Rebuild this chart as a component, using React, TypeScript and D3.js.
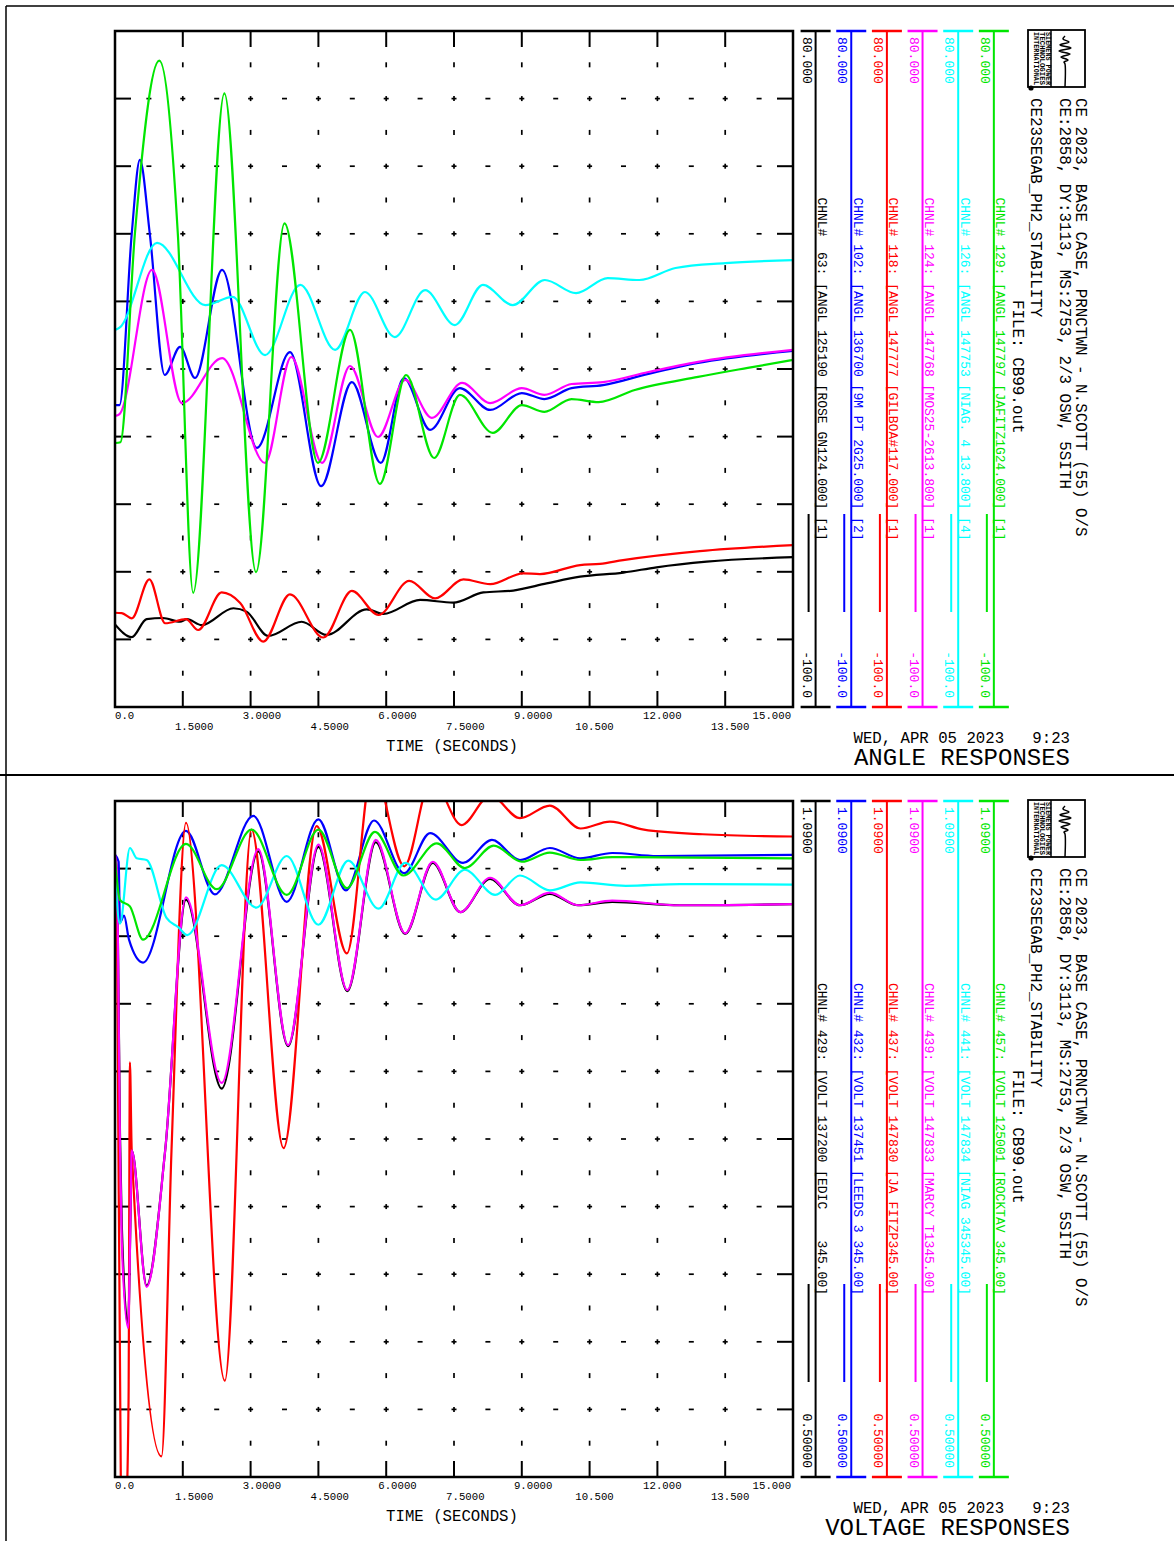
import React, { useEffect, useRef } from 'react';
import * as d3 from 'd3';

type Pt = [number, number];

const timeTicks = ['0.0', '1.5000', '3.0000', '4.5000', '6.0000', '7.5000', '9.0000', '10.500', '12.000', '13.500', '15.000'];

// black, blue, red, magenta, cyan, green (channel order)
const channelColors = ['#000000', '#0000ff', '#ff0000', '#ff00ff', '#00ffff', '#00e600'];

// ANGLE RESPONSES [time s, angle deg]
const angle63: Pt[] = [[0, -78], [0.37, -81.4], [0.7, -76.6], [1.06, -76.3], [1.44, -77.3], [1.59, -76.6], [1.92, -78.2], [2.62, -73.7], [2.91, -74.6], [3.39, -81.1], [4.13, -77.3], [4.68, -80.8], [5.57, -74], [5.94, -75.2], [6.75, -71.5], [7.48, -72.2], [8.15, -69.5], [8.81, -69], [9.55, -67.1], [10.29, -65.3], [11.25, -64.2], [11.98, -62.8], [13.09, -61.3], [15, -60.1]];
const angle102: Pt[] = [[0, -19.6], [0.1, -19.6], [0.37, 26], [0.55, 45.7], [0.77, 26], [1.1, -11.6], [1.44, -4.1], [1.77, -12.4], [2.37, 16.4], [3.14, -31], [3.87, -5.5], [4.56, -41.2], [5.24, -13.5], [5.88, -35], [6.39, -12.4], [6.97, -26.2], [7.63, -15.1], [8.3, -20.9], [9.0, -16.4], [9.5, -18], [10.1, -15.1], [10.8, -14.3], [11.8, -11.3], [12.9, -8.4], [15, -5.2]];
const angle118: Pt[] = [[0, -74.9], [0.15, -75], [0.37, -76.4], [0.76, -66], [1.11, -77.7], [1.57, -76.6], [1.84, -79.5], [2.36, -69.5], [2.77, -72.3], [3.28, -82.6], [3.87, -70], [4.61, -81.5], [5.24, -69.1], [5.83, -75.5], [6.51, -66.4], [7.08, -71.1], [7.71, -66], [8.3, -67.3], [9.03, -64.4], [9.4, -64.6], [10.29, -62.2], [10.73, -61.9], [11.24, -60.9], [12.94, -58.5], [15, -56.9]];
const angle124: Pt[] = [[0, -22.5], [0.1, -22], [0.82, 16.4], [1.48, -19.1], [2.37, -7.1], [3.32, -35], [3.9, -6.8], [4.58, -35], [5.2, -9.2], [5.82, -28.1], [6.42, -12.9], [7.01, -23], [7.68, -13.7], [8.3, -19.1], [9.0, -15.1], [9.5, -16.9], [10.1, -14], [10.8, -13.5], [11.8, -10.8], [12.9, -8.1], [15, -4.9]];
const angle126: Pt[] = [[0, 0.4], [0.1, 1], [0.93, 23.6], [2.0, 7], [2.6, 9.2], [3.32, -6.3], [4.1, 12.4], [4.87, -4.9], [5.53, 10.5], [6.19, -1.5], [6.86, 11], [7.52, 1.7], [8.14, 12.4], [8.8, 7], [9.51, 13.7], [10.2, 10.2], [10.9, 14.2], [11.6, 13.7], [12.4, 16.9], [13.5, 18.2], [15, 19]];
const angle129: Pt[] = [[0, -29.7], [0.12, -29.5], [0.44, 26], [0.98, 72.1], [1.39, 26], [1.73, -69.6], [2.42, 63.4], [3.12, -64.1], [3.75, 28.8], [4.49, -35], [5.2, 0.4], [5.86, -40.6], [6.44, -11.6], [7.06, -33.7], [7.63, -16.9], [8.36, -27], [9.0, -19.6], [9.5, -21.4], [10.1, -18], [10.7, -18.8], [11.5, -15.6], [12.9, -12.1], [14, -9.7], [15, -7.6]];

// VOLTAGE RESPONSES [time s, voltage pu]
const volt429: Pt[] = [[0, 1.043], [0.04, 1.03], [0.07, 0.95], [0.11, 0.8], [0.15, 0.72], [0.29, 0.632], [0.34, 0.72], [0.37, 0.785], [0.7, 0.667], [1.11, 0.785], [1.57, 1.004], [2.36, 0.839], [3.17, 1.046], [3.83, 0.876], [4.5, 1.05], [5.14, 0.924], [5.77, 1.054], [6.42, 0.974], [7.03, 1.036], [7.64, 0.993], [8.3, 1.022], [8.96, 0.999], [9.62, 1.009], [10.24, 0.999], [11, 1.002], [12.5, 0.999], [15, 1.0]];
const volt432: Pt[] = [[0, 1.043], [0.08, 1.037], [0.11, 0.984], [0.2, 0.99], [0.31, 0.969], [0.62, 0.949], [1.57, 1.064], [2.21, 1.0085], [3.06, 1.077], [3.8, 1.002], [4.5, 1.074], [5.11, 1.012], [5.73, 1.073], [6.4, 1.027], [6.97, 1.062], [7.7, 1.036], [8.34, 1.056], [8.96, 1.0385], [9.62, 1.049], [10.29, 1.04], [11, 1.0446], [12, 1.042], [15, 1.043]];
const volt437: Pt[] = [[0, 1.027], [0.04, 1.001], [0.13, 0.49], [0.25, 0.48], [0.3, 0.567], [0.33, 0.862], [0.37, 0.785], [1.03, 0.518], [1.25, 0.785], [1.57, 1.071], [2.43, 0.584], [3.02, 1.065], [3.73, 0.787], [4.46, 1.068], [5.13, 0.957], [5.7, 1.12], [6.4, 1.033], [7.0, 1.11], [7.67, 1.069], [8.3, 1.095], [8.96, 1.075], [9.62, 1.086], [10.3, 1.066], [10.95, 1.072], [11.7, 1.065], [13, 1.061], [15, 1.059]];
const volt439: Pt[] = [[0, 1.043], [0.04, 1.03], [0.07, 0.95], [0.11, 0.79], [0.15, 0.705], [0.29, 0.63], [0.34, 0.72], [0.37, 0.785], [0.7, 0.666], [1.11, 0.785], [1.57, 1.006], [2.36, 0.844], [3.17, 1.048], [3.83, 0.877], [4.5, 1.052], [5.14, 0.925], [5.77, 1.056], [6.42, 0.9745], [7.03, 1.037], [7.64, 0.993], [8.3, 1.023], [8.96, 0.999], [9.62, 1.01], [10.24, 0.999], [11, 1.003], [12.5, 0.999], [15, 1.0]];
const volt441: Pt[] = [[0, 1.025], [0.11, 0.983], [0.33, 1.049], [0.48, 1.04], [0.7, 1.0385], [1.14, 0.988], [1.4, 0.98], [1.6, 0.973], [2.36, 1.034], [3.13, 0.997], [3.8, 1.042], [4.5, 0.982], [5.16, 1.038], [5.83, 0.996], [6.42, 1.036], [7.1, 1.004], [7.74, 1.03], [8.41, 1.008], [8.96, 1.025], [9.62, 1.012], [10.3, 1.019], [11.3, 1.016], [12.5, 1.0175], [15, 1.017]];
const volt457: Pt[] = [[0, 1.04], [0.11, 1.0036], [0.33, 0.998], [0.62, 0.969], [1.57, 1.0525], [2.25, 1.013], [3.02, 1.065], [3.8, 1.008], [4.5, 1.065], [5.13, 1.014], [5.75, 1.063], [6.38, 1.025], [7.12, 1.053], [7.74, 1.0315], [8.38, 1.051], [9.0, 1.037], [9.62, 1.045], [10.3, 1.0385], [11, 1.041], [15, 1.04]];

const angleChannels = [
  'CHNL#  63: [ANGL 125190 [ROSE GN124.000] [1]',
  'CHNL# 102: [ANGL 136700 [9M PT 2G25.000] [2]',
  'CHNL# 118: [ANGL 147777 [GILBOA#117.000] [1]',
  'CHNL# 124: [ANGL 147768 [MOS25-2613.800] [1]',
  'CHNL# 126: [ANGL 147753 [NIAG. 4 13.800] [4]',
  'CHNL# 129: [ANGL 147797 [JAFITZ1G24.000] [1]',
];
const voltChannels = [
  'CHNL# 429: [VOLT 137200 [EDIC    345.00]',
  'CHNL# 432: [VOLT 137451 [LEEDS 3 345.00]',
  'CHNL# 437: [VOLT 147830 [JA FITZP345.00]',
  'CHNL# 439: [VOLT 147833 [MARCY T1345.00]',
  'CHNL# 441: [VOLT 147834 [NIAG 345345.00]',
  'CHNL# 457: [VOLT 125001 [ROCKTAV 345.00]',
];

const headerLines = [
  'CE 2023, BASE CASE, PRNCTWN - N.SCOTT (55) O/S',
  'CE:2858, DY:3113, MS:2753, 2/3 OSW, 5SITH',
  'CE23SEGAB_PH2_STABILITY',
];
const fileName = 'FILE: CB99.out';
const stamp = 'WED, APR 05 2023   9:23';
const logoLines = ['SIEMENS POWER', 'TECHNOLOGIES', 'INTERNATIONAL'];

const MONO = '"Liberation Mono", "DejaVu Sans Mono", monospace';
const PLOT_L = 115;
const PLOT_R = 793;
const PLOT_H = 676;

interface PanelSpec {
  top: number;
  title: string;
  domain: [number, number];
  maxLabel: string;
  minLabel: string;
  series: Pt[][];
  labels: string[];
}

const panels: PanelSpec[] = [
  {
    top: 31, title: 'ANGLE RESPONSES', domain: [-100, 80], maxLabel: '80.000', minLabel: '-100.0',
    series: [angle63, angle102, angle118, angle124, angle126, angle129], labels: angleChannels,
  },
  {
    top: 801, title: 'VOLTAGE RESPONSES', domain: [0.5, 1.09], maxLabel: '1.0900', minLabel: '0.50000',
    series: [volt429, volt432, volt437, volt439, volt441, volt457], labels: voltChannels,
  },
];

// eslint-disable-next-line @typescript-eslint/no-explicit-any
type Sel = d3.Selection<any, unknown, null, undefined>;

const vtext = (sel: Sel, px: number, py: number, s: string, size: number, anchor: string, fill: string) =>
  sel.append('text')
    .attr('transform', `translate(${px},${py}) rotate(90)`)
    .attr('text-anchor', anchor)
    .attr('xml:space', 'preserve')
    .style('white-space', 'pre')
    .style('font-family', MONO)
    .style('font-size', `${size}px`)
    .attr('fill', fill)
    .text(s);

function drawPanel(svg: Sel, p: PanelSpec, idx: number) {
  const top = p.top;
  const bottom = top + PLOT_H;
  const [lo, hi] = p.domain;
  const x = d3.scaleLinear().domain([0, 15]).range([PLOT_L, PLOT_R]);
  const y = d3.scaleLinear().domain(p.domain).range([bottom, top]);
  const g = svg.append('g');

  // dotted grid: a short dash every half division along each grid line
  const gridX = d3.range(1, 10).map(i => x(i * 1.5));
  const gridY = d3.range(1, 10).map(j => y(lo + j * (hi - lo) / 10));
  const halfX = d3.range(1, 20).map(k => x(k * 0.75));
  const halfY = d3.range(1, 20).map(k => y(lo + k * (hi - lo) / 20));

  const vMarks = gridX.flatMap(gx => halfY.map(hy => [gx, hy]));
  const hMarks = gridY.flatMap(gy => halfX.map(hx => [hx, gy]));
  const marks = g.append('g').attr('stroke', '#000').attr('stroke-width', 1.7);
  marks.selectAll('.vm').data(vMarks).join('line').attr('class', 'vm')
    .attr('x1', d => d[0]).attr('x2', d => d[0]).attr('y1', d => d[1] - 2.5).attr('y2', d => d[1] + 2.5);
  marks.selectAll('.hm').data(hMarks).join('line').attr('class', 'hm')
    .attr('x1', d => d[0] - 2.5).attr('x2', d => d[0] + 2.5).attr('y1', d => d[1]).attr('y2', d => d[1]);

  // inward axis ticks on all four sides
  const ticks = g.append('g').attr('stroke', '#000').attr('stroke-width', 2);
  gridX.forEach(gx => {
    ticks.append('line').attr('x1', gx).attr('x2', gx).attr('y1', top).attr('y2', top + 16);
    ticks.append('line').attr('x1', gx).attr('x2', gx).attr('y1', bottom - 16).attr('y2', bottom);
  });
  gridY.forEach(gy => {
    ticks.append('line').attr('x1', PLOT_L).attr('x2', PLOT_L + 16).attr('y1', gy).attr('y2', gy);
    ticks.append('line').attr('x1', PLOT_R - 16).attr('x2', PLOT_R).attr('y1', gy).attr('y2', gy);
  });

  // curves
  const clipId = `plot-clip-${idx}`;
  svg.append('clipPath').attr('id', clipId).append('rect')
    .attr('x', PLOT_L).attr('y', top).attr('width', PLOT_R - PLOT_L).attr('height', PLOT_H);
  const line = d3.line<Pt>().x(d => x(d[0])).y(d => y(d[1])).curve(d3.curveMonotoneX);
  p.series.forEach((s, i) => {
    g.append('path')
      .attr('d', line(s))
      .attr('fill', 'none')
      .attr('stroke', channelColors[i])
      .attr('stroke-width', 2.2)
      .attr('stroke-linejoin', 'round')
      .attr('clip-path', `url(#${clipId})`);
  });

  g.append('rect')
    .attr('x', PLOT_L).attr('y', top).attr('width', PLOT_R - PLOT_L).attr('height', PLOT_H)
    .attr('fill', 'none').attr('stroke', '#000').attr('stroke-width', 2.5);

  // time labels in two staggered rows, decimal point near the grid line
  const cw = 6.4;
  timeTicks.forEach((t, i) => {
    const gx = x(i * 1.5);
    let sx = gx - t.indexOf('.') * cw - 1.5;
    sx = Math.max(PLOT_L, Math.min(PLOT_R - 2 - t.length * cw, sx));
    g.append('text')
      .attr('x', sx)
      .attr('y', i % 2 === 0 ? bottom + 11.5 : bottom + 23)
      .style('font-family', MONO)
      .style('font-size', '10.7px')
      .attr('fill', '#000')
      .text(t);
  });
  g.append('text')
    .attr('x', 452).attr('y', bottom + 44)
    .attr('text-anchor', 'middle')
    .style('font-family', MONO)
    .style('font-size', '15.7px')
    .text('TIME (SECONDS)');

  // channel scales / legend
  p.labels.forEach((lab, i) => {
    const lx = 815.6 + i * 35.65;
    const c = channelColors[i];
    const lg = g.append('g').attr('stroke', c);
    lg.append('line').attr('x1', lx - 15).attr('x2', lx + 15).attr('y1', top).attr('y2', top).attr('stroke-width', 2.5);
    lg.append('line').attr('x1', lx).attr('x2', lx).attr('y1', top).attr('y2', bottom).attr('stroke-width', 2);
    lg.append('line').attr('x1', lx - 15).attr('x2', lx + 15).attr('y1', bottom).attr('y2', bottom).attr('stroke-width', 2.5);
    lg.append('line').attr('x1', lx - 7).attr('x2', lx - 7).attr('y1', top + 483).attr('y2', top + 581).attr('stroke-width', 2);
    vtext(g, lx - 13, top + 6, p.maxLabel, 13, 'start', c);
    vtext(g, lx - 13, bottom - 9, p.minLabel, 13, 'end', c);
    vtext(g, lx + 2.5, top + PLOT_H / 2, lab, 13, 'middle', c);
  });

  // logo
  const logo = g.append('g');
  logo.append('rect').attr('x', 1028).attr('y', top - 1).attr('width', 57).attr('height', 57)
    .attr('fill', '#fff').attr('stroke', '#000').attr('stroke-width', 1.8);
  logo.append('line').attr('x1', 1051).attr('x2', 1051).attr('y1', top - 1).attr('y2', top + 56)
    .attr('stroke', '#000').attr('stroke-width', 1.5);
  [1045.5, 1039.5, 1033.5].forEach((lx, i) => {
    vtext(logo, lx, top + 1, logoLines[i], 6.4, 'start', '#000')
      .attr('textLength', 53).attr('lengthAdjust', 'spacingAndGlyphs').style('font-weight', 'bold');
  });
  const wave: Pt[] = [[0, 5], [-2, 8], [4, 11], [-5, 14], [6, 17], [-6, 20], [5, 23], [-4, 26], [3, 29], [-1, 31], [0, 33], [0, 56]];
  logo.append('path')
    .attr('d', d3.line<Pt>().x(d => 1065 + d[0]).y(d => top + d[1]).curve(d3.curveCatmullRom)(wave))
    .attr('fill', 'none').attr('stroke', '#000').attr('stroke-width', 1.5);
  logo.append('circle').attr('cx', 1031).attr('cy', top + 57).attr('r', 2.6).attr('fill', '#000');

  // header
  [1075.5, 1059.5, 1031].forEach((hx, i) => vtext(g, hx, top + 67, headerLines[i], 15.9, 'start', '#000'));
  vtext(g, 1013, top + 269, fileName, 15.9, 'start', '#000');

  g.append('text')
    .attr('x', 1070).attr('y', top + 711.5)
    .attr('text-anchor', 'end')
    .attr('xml:space', 'preserve')
    .style('white-space', 'pre')
    .style('font-family', MONO)
    .style('font-size', '15.7px')
    .text(stamp);
  g.append('text')
    .attr('x', 1070).attr('y', top + 733.5)
    .attr('text-anchor', 'end')
    .style('font-family', MONO)
    .style('font-size', '24px')
    .text(p.title);
}

export default function App() {
  const svgRef = useRef<SVGSVGElement | null>(null);

  useEffect(() => {
    const svg = d3.select(svgRef.current);
    svg.selectAll('*').remove();
    svg.append('rect').attr('width', 1174).attr('height', 1541).attr('fill', '#fff');

    // page frame and divider between the two plots
    const frame = svg.append('g').attr('stroke', '#000');
    frame.append('line').attr('x1', 6).attr('x2', 1174).attr('y1', 6).attr('y2', 6).attr('stroke-width', 1.5);
    frame.append('line').attr('x1', 6).attr('x2', 6).attr('y1', 6).attr('y2', 1541).attr('stroke-width', 1.5);
    frame.append('line').attr('x1', 0).attr('x2', 1174).attr('y1', 775).attr('y2', 775).attr('stroke-width', 2);

    panels.forEach((p, i) => drawPanel(svg, p, i));
  }, []);

  return (
    <svg
      ref={svgRef}
      width={1174}
      height={1541}
      style={{ position: 'absolute', left: 0, top: 0, display: 'block' }}
    />
  );
}
